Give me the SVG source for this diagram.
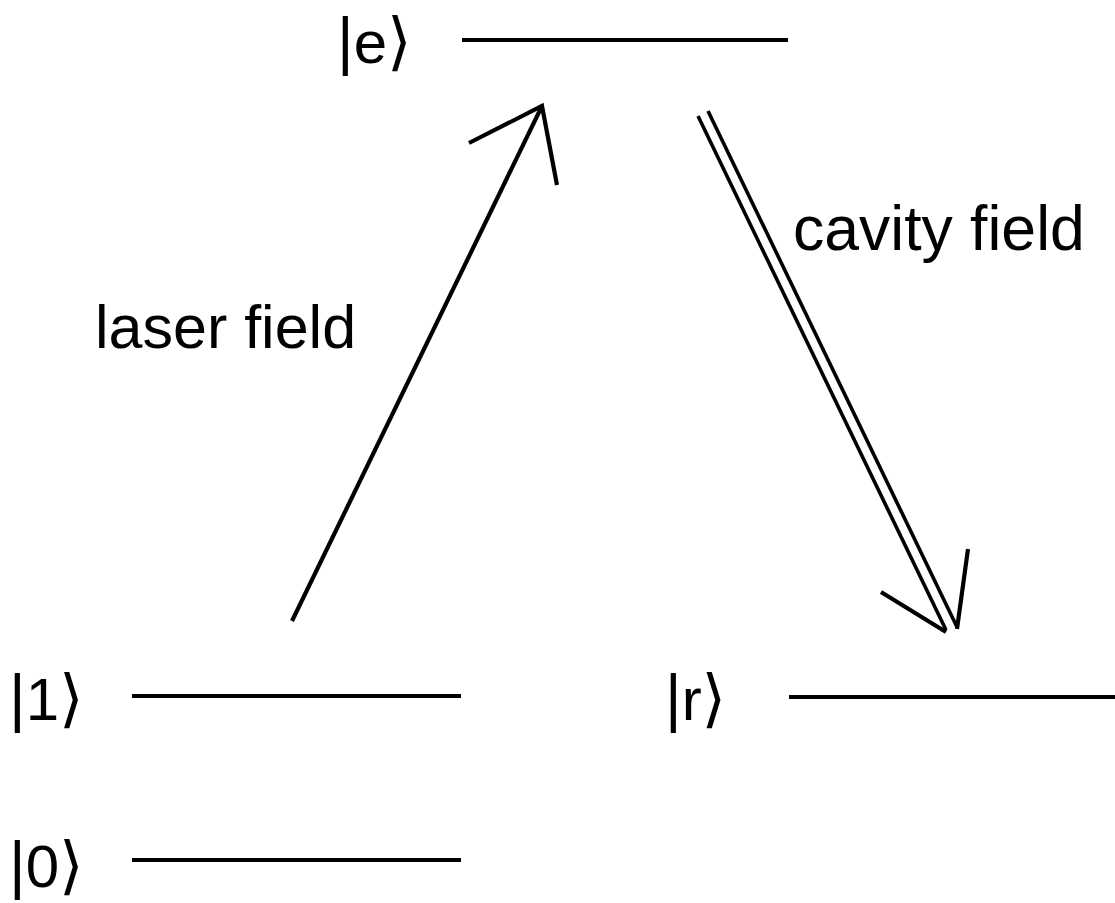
<svg xmlns="http://www.w3.org/2000/svg" width="1115" height="903" viewBox="0 0 1115 903">
<style>
.lvl{stroke:#000;stroke-width:4.2;fill:none}
.arr{stroke:#000;stroke-width:4.2;fill:none;stroke-linecap:butt;stroke-linejoin:miter}
.dbl{stroke:#000;stroke-width:3.6;fill:none}
.t{font-family:"Liberation Sans",Arial,"DejaVu Sans",sans-serif;font-size:60px;fill:#000}
.bar{font-size:64px}
.ang{font-size:63px}
</style>
<rect width="1115" height="903" fill="#fff"/>
<g id="state-e">
<text class="t" x="337" y="63"><tspan class="bar">|</tspan>e<tspan class="ang">⟩</tspan></text>
<line class="lvl" x1="462" y1="40" x2="788" y2="40"/>
</g>
<g id="state-1">
<text class="t" x="9" y="720"><tspan class="bar">|</tspan>1<tspan class="ang">⟩</tspan></text>
<line class="lvl" x1="132" y1="696" x2="461" y2="696"/>
</g>
<g id="state-0">
<text class="t" x="9" y="887"><tspan class="bar">|</tspan>0<tspan class="ang">⟩</tspan></text>
<line class="lvl" x1="132" y1="860" x2="461" y2="860"/>
</g>
<g id="state-r">
<text class="t" x="665" y="720"><tspan class="bar">|</tspan>r<tspan class="ang">⟩</tspan></text>
<line class="lvl" x1="789" y1="697" x2="1115" y2="697"/>
</g>
<g id="connectors">
<g id="laser">
<line class="arr" x1="292" y1="621" x2="542" y2="106"/>
<polyline class="arr" points="469,143 542,106 557,185"/>
<text class="t" x="95" y="348" style="font-size:61px">laser field</text>
</g>
<g id="cavity">
<line class="dbl" x1="698" y1="116" x2="946" y2="630"/>
<line class="dbl" x1="708" y1="111" x2="957" y2="627"/>
<polyline class="arr" points="881,592 946,632"/>
<polyline class="arr" points="968,549 957,629"/>
<text class="t" x="793" y="250" style="font-size:62.5px">cavity field</text>
</g>
</g>
</svg>
